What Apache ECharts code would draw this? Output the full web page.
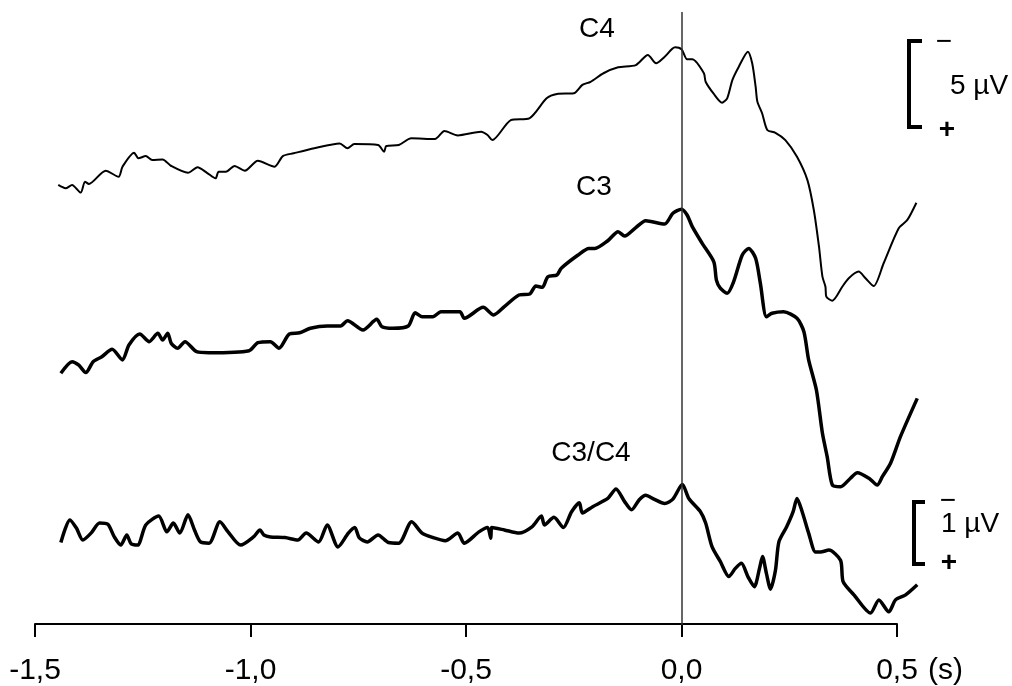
<!DOCTYPE html>
<html>
<head>
<meta charset="utf-8">
<script src="https://cdn.jsdelivr.net/npm/echarts@6.0.0/dist/echarts.min.js"></script>
<style>
html,body{margin:0;padding:0;background:#fff;}
#chart{width:1012px;height:686px;}
</style>
</head>
<body>
<div id="chart"></div>
<script>
// ---- data (time in s, amplitude in µV, negative = up) ----
const xTicks = [-1.5, -1.0, -0.5, 0.0, 0.5];
const xTickLabels = ['-1,5', '-1,0', '-0,5', '0,0', '0,5'];

const c4Time = [-1.446,-1.429,-1.414,-1.394,-1.384,-1.375,-1.336,-1.306,-1.297,-1.270,-1.260,-1.243,-1.228,-1.204,-1.184,-1.145,-1.123,-1.101,-1.081,-1.074,-1.057,-1.037,-1.013,-0.983,-0.944,-0.925,-0.900,-0.852,-0.793,-0.775,-0.759,-0.704,-0.690,-0.685,-0.656,-0.627,-0.572,-0.550,-0.519,-0.465,-0.450,-0.439,-0.396,-0.353,-0.313,-0.289,-0.250,-0.230,-0.211,-0.181,-0.147,-0.106,-0.078,-0.059,-0.039,-0.015,0,0.013,0.025,0.052,0.056,0.075,0.094,0.106,0.118,0.133,0.154,0.164,0.172,0.176,0.187,0.199,0.218,0.241,0.268,0.292,0.307,0.319,0.327,0.334,0.336,0.350,0.373,0.388,0.411,0.427,0.446,0.469,0.504,0.524,0.545];
const c4Values = [0.86,1.05,0.86,1.30,0.67,0.80,0.04,0.39,-0.19,-0.99,-0.67,-0.80,-0.57,-0.61,-0.23,0.16,-0.16,0.16,0.48,0.10,0.10,-0.23,0.04,-0.53,-0.19,-0.80,-0.96,-1.25,-1.53,-1.25,-1.49,-1.44,-1.05,-1.38,-1.44,-1.82,-1.78,-2.24,-1.99,-2.20,-2.01,-1.72,-2.87,-2.97,-4.12,-4.37,-4.41,-4.89,-5.07,-5.56,-5.90,-6.03,-6.61,-6.13,-6.51,-7.05,-6.94,-6.36,-6.36,-5.56,-5.07,-4.37,-3.87,-4.12,-5.17,-5.94,-6.80,-6.13,-4.79,-3.93,-3.26,-2.30,-2.14,-1.72,-0.76,0.57,2.30,4.41,6.13,6.71,7.28,7.51,6.71,6.22,5.84,6.22,6.67,5.36,3.35,2.87,1.88];

const c3Time = [-1.440,-1.414,-1.399,-1.382,-1.365,-1.345,-1.321,-1.297,-1.282,-1.257,-1.235,-1.215,-1.204,-1.192,-1.184,-1.169,-1.152,-1.125,-1.096,-1.003,-0.983,-0.954,-0.934,-0.910,-0.886,-0.861,-0.822,-0.791,-0.775,-0.739,-0.707,-0.695,-0.670,-0.634,-0.618,-0.602,-0.577,-0.558,-0.514,-0.504,-0.460,-0.436,-0.411,-0.377,-0.352,-0.338,-0.323,-0.310,-0.289,-0.279,-0.240,-0.215,-0.201,-0.171,-0.147,-0.132,-0.108,-0.083,-0.039,-0.020,0,0.013,0.025,0.048,0.075,0.081,0.090,0.106,0.121,0.141,0.156,0.172,0.183,0.197,0.210,0.237,0.268,0.284,0.295,0.313,0.327,0.338,0.350,0.369,0.392,0.408,0.435,0.454,0.466,0.485,0.508,0.547];
const c3Values = [1.34,0.67,0.86,1.30,0.67,0.39,-0.04,0.57,-0.29,-0.92,-0.48,-0.96,-0.57,-0.96,-0.39,-0.10,-0.48,0.10,0.16,0.04,-0.42,-0.48,-0.10,-0.92,-0.99,-1.25,-1.38,-1.38,-1.68,-1.15,-1.76,-1.34,-1.25,-1.38,-2.14,-1.91,-1.91,-2.20,-2.20,-1.82,-2.45,-2.01,-2.49,-3.16,-3.22,-3.68,-3.60,-4.21,-4.31,-4.70,-5.46,-5.84,-5.84,-6.28,-6.80,-6.55,-6.99,-7.43,-7.24,-7.86,-8.09,-7.76,-7.09,-6.13,-5.07,-4.02,-3.55,-3.26,-3.93,-5.46,-5.84,-5.27,-3.83,-1.91,-2.11,-2.20,-1.82,-1.05,0.57,2.30,4.79,6.13,7.76,7.86,7.37,7.05,7.37,7.76,7.28,6.51,4.98,2.78];

const ratioTime = [-1.440,-1.419,-1.404,-1.389,-1.370,-1.350,-1.331,-1.316,-1.301,-1.287,-1.277,-1.262,-1.243,-1.213,-1.194,-1.179,-1.164,-1.145,-1.130,-1.116,-1.096,-1.071,-1.052,-1.023,-0.993,-0.978,-0.969,-0.954,-0.920,-0.890,-0.871,-0.842,-0.822,-0.797,-0.773,-0.758,-0.748,-0.729,-0.704,-0.680,-0.656,-0.626,-0.602,-0.577,-0.548,-0.519,-0.504,-0.470,-0.450,-0.4425,-0.4404,-0.411,-0.377,-0.347,-0.325,-0.318,-0.296,-0.274,-0.255,-0.237,-0.230,-0.206,-0.171,-0.152,-0.132,-0.116,-0.098,-0.083,-0.064,-0.039,-0.020,0.002,0.017,0.044,0.056,0.071,0.090,0.110,0.125,0.139,0.154,0.169,0.181,0.188,0.197,0.2065,0.218,0.226,0.244,0.259,0.268,0.280,0.295,0.311,0.3225,0.342,0.369,0.375,0.400,0.4385,0.458,0.481,0.4965,0.520,0.547];
const ratioValues = [0.12,-0.24,-0.11,0.08,-0.03,-0.19,-0.17,0.03,0.16,0,0.14,0.16,-0.16,-0.30,-0.05,-0.19,-0.03,-0.32,-0.08,0.11,0.13,-0.21,-0.05,0.16,0.03,-0.08,0,0.03,0.04,0.08,-0.03,0.11,-0.16,0.19,-0.03,-0.12,0.04,0.11,0,0.12,0.13,-0.21,-0.03,0.04,0.09,-0.03,0.13,-0.05,-0.12,0.05,-0.12,-0.08,-0.03,-0.13,-0.30,-0.16,-0.28,-0.12,-0.37,-0.51,-0.35,-0.45,-0.58,-0.73,-0.53,-0.40,-0.56,-0.63,-0.57,-0.50,-0.57,-0.80,-0.58,-0.37,-0.19,0.19,0.42,0.66,0.53,0.45,0.66,0.82,0.53,0.34,0.61,0.86,0.56,0.11,-0.13,-0.37,-0.58,-0.37,-0.03,0.27,0.27,0.24,0.40,0.74,0.95,1.24,1.03,1.22,1.03,0.95,0.79];

const traceLabels = ['C4', 'C3', 'C3/C4'];
const scaleLabels = ['5 \u00b5V', '1 \u00b5V'];

// ---- chart ----
const FONT = "'Liberation Sans', Arial, sans-serif";
const chart = echarts.init(document.getElementById('chart'), null, {renderer: 'canvas'});
const zip = (t, v) => t.map((x, i) => [x, v[i]]);

const lineSeries = (name, t, v, axis, width) => ({
  name, type: 'line', xAxisIndex: 0, yAxisIndex: axis,
  data: zip(t, v), showSymbol: false, symbol: 'none', smooth: 0.25,
  clip: false, lineStyle: {color: '#000', width: width}, animation: false, silent: true
});

const hiddenY = (grid, min, max) => ({
  type: 'value', gridIndex: grid, inverse: true, min, max, show: false,
  axisLine: {show: false}, splitLine: {show: false}
});

const text = (t, x, y, opts) => Object.assign({
  type: 'text', x, y, silent: true,
  style: Object.assign({text: t, fill: '#000', font: '28px ' + FONT, align: 'center', verticalAlign: 'middle'}, opts || {})
});

const option = {
  backgroundColor: '#fff',
  animation: false,
  grid: [
    // data area: -1.5 .. 0.55 s
    {left: 35, right: 93.45, top: 12, bottom: 61, containLabel: false},
    // visible time axis: -1.5 .. 0.5 s
    {left: 35, right: 115, top: 12, bottom: 61, containLabel: false}
  ],
  xAxis: [
    {type: 'value', gridIndex: 0, min: -1.5, max: 0.55, show: false, splitLine: {show: false}},
    {
      type: 'value', gridIndex: 1, min: -1.5, max: 0.5, interval: 0.5, position: 'bottom',
      axisLine: {show: true, onZero: false, lineStyle: {color: '#000', width: 2}},
      axisTick: {show: true, length: 13, lineStyle: {color: '#000', width: 2}},
      splitLine: {show: false},
      axisLabel: {
        margin: 32, color: '#000', fontSize: 30, fontFamily: FONT,
        formatter: v => { const i = xTicks.findIndex(t => Math.abs(t - v) < 1e-9); return i >= 0 ? xTickLabels[i] : ''; }
      }
    }
  ],
  yAxis: [
    hiddenY(0, -9.0805, 26.149),
    hiddenY(0, -19.425, 15.805),
    hiddenY(0, -8.3016, 1.4286),
    hiddenY(1, 0, 1)
  ],
  series: [
    Object.assign(lineSeries(traceLabels[0], c4Time, c4Values, 0, 2), {
      markLine: {silent: true, symbol: 'none', label: {show: false},
        lineStyle: {color: '#333', width: 1.5, type: 'solid'}, data: [{xAxis: 0}]}
    }),
    lineSeries(traceLabels[1], c3Time, c3Values, 1, 3.5),
    lineSeries(traceLabels[2], ratioTime, ratioValues, 2, 3.5)
  ],
  graphic: [
    text(traceLabels[0], 597, 29),
    text(traceLabels[1], 594, 187),
    text(traceLabels[2], 591, 453),
    text('(s)', 928, 671, {align: 'left', font: '30px ' + FONT}),
    {type: 'polyline', silent: true, shape: {points: [[922, 41], [909, 41], [909, 127], [922, 127]]},
      style: {stroke: '#000', lineWidth: 4, fill: null}},
    text('\u2212', 944, 42),
    text(scaleLabels[0], 950, 86, {align: 'left'}),
    text('+', 947, 130, {font: 'bold 28px ' + FONT}),
    {type: 'polyline', silent: true, shape: {points: [[925, 502], [914, 502], [914, 564], [925, 564]]},
      style: {stroke: '#000', lineWidth: 4, fill: null}},
    text('\u2212', 948, 501),
    text(scaleLabels[1], 941, 524, {align: 'left'}),
    text('+', 949, 563, {font: 'bold 28px ' + FONT})
  ]
};
chart.setOption(option);
</script>
</body>
</html>
